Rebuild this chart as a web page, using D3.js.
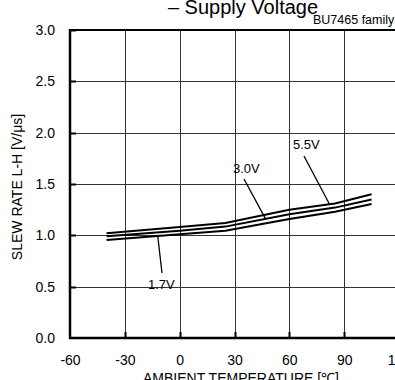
<!DOCTYPE html>
<html><head><meta charset="utf-8">
<script src="https://cdn.jsdelivr.net/npm/d3@7"></script>
<style>body{margin:0;background:#fff;overflow:hidden}svg{display:block;font-family:"Liberation Sans",Arial,sans-serif}</style>
</head><body>
<script>
const temps = [-40, 0, 25, 60, 85, 105];
const v55 = [1.02, 1.08, 1.12, 1.25, 1.31, 1.40];
const v30 = [0.99, 1.045, 1.085, 1.205, 1.27, 1.35];
const v17 = [0.955, 1.01, 1.045, 1.16, 1.23, 1.305];
const xTicks = [-60, -30, 0, 30, 60, 90, 120];
const yTicks = [0.0, 0.5, 1.0, 1.5, 2.0, 2.5, 3.0];
const series = [
  {name: "5.5V", values: v55},
  {name: "3.0V", values: v30},
  {name: "1.7V", values: v17}
];

const W = 395, H = 380;
const svg = d3.select("body").append("svg").attr("width", W).attr("height", H);
const x = d3.scaleLinear().domain([-60, 120]).range([70, 399]);
const y = d3.scaleLinear().domain([0, 3]).range([338, 30]);

// gridlines
svg.append("g").selectAll("line").data(xTicks.slice(1)).join("line")
  .attr("x1", d => Math.round(x(d)) + 0.5).attr("x2", d => Math.round(x(d)) + 0.5)
  .attr("y1", y(3)).attr("y2", y(0)).attr("stroke", "#333").attr("stroke-width", 1);
svg.append("g").selectAll("line").data(yTicks.slice(1)).join("line")
  .attr("x1", x(-60)).attr("x2", x(120))
  .attr("y1", d => Math.round(y(d)) + 0.5).attr("y2", d => Math.round(y(d)) + 0.5)
  .attr("stroke", "#333").attr("stroke-width", 1);
// inner tick marks
svg.append("g").selectAll("line").data(xTicks.slice(1)).join("line")
  .attr("x1", d => Math.round(x(d)) + 0.5).attr("x2", d => Math.round(x(d)) + 0.5)
  .attr("y1", y(0) - 6).attr("y2", y(0)).attr("stroke", "#000").attr("stroke-width", 2);
svg.append("g").selectAll("line").data(yTicks.slice(1)).join("line")
  .attr("x1", x(-60)).attr("x2", x(-60) + 6)
  .attr("y1", d => Math.round(y(d)) + 0.5).attr("y2", d => Math.round(y(d)) + 0.5)
  .attr("stroke", "#000").attr("stroke-width", 2);

// frame
svg.append("rect").attr("x", x(-60)).attr("y", y(3)).attr("width", x(120) - x(-60)).attr("height", y(0) - y(3))
  .attr("fill", "none").attr("stroke", "#000").attr("stroke-width", 1);
svg.append("line").attr("x1", x(-60)).attr("x2", x(-60)).attr("y1", y(3) - 1).attr("y2", y(0) + 1).attr("stroke", "#000").attr("stroke-width", 2.5);
svg.append("line").attr("x1", x(-60) - 1).attr("x2", x(120)).attr("y1", y(0)).attr("y2", y(0)).attr("stroke", "#000").attr("stroke-width", 2.5);
svg.append("line").attr("x1", x(-60) - 1).attr("x2", x(120)).attr("y1", y(3)).attr("y2", y(3)).attr("stroke", "#000").attr("stroke-width", 2);

// axes labels
const xAxis = d3.axisBottom(x).tickValues(xTicks).tickSize(0).tickPadding(0).tickFormat(d => String(d));
const gx = svg.append("g").attr("transform", `translate(0,${y(0) + 17})`).call(xAxis);
gx.select(".domain").remove();
gx.selectAll("text").attr("font-size", 14).attr("font-family", "Liberation Sans, Arial, sans-serif").attr("fill", "#000");

const yAxis = d3.axisLeft(y).tickValues(yTicks).tickSize(0).tickPadding(0).tickFormat(d3.format(".1f"));
const gy = svg.append("g").attr("transform", `translate(55,0)`).call(yAxis);
gy.select(".domain").remove();
gy.selectAll("text").attr("font-size", 14).attr("font-family", "Liberation Sans, Arial, sans-serif").attr("fill", "#000");

// curves
const line = d3.line().x((d, i) => x(temps[i])).y(d => y(d));
svg.append("g").selectAll("path").data(series).join("path")
  .attr("d", d => line(d.values)).attr("fill", "none").attr("stroke", "#000").attr("stroke-width", 2);

// annotations
const ann = [
  {text: "5.5V", tx: 293, ty: 149, x1: 304, y1: 156, t: 82, s: v55},
  {text: "3.0V", tx: 233, ty: 173, x1: 244, y1: 179, t: 47, s: v30},
  {text: "1.7V", tx: 148, ty: 289, x1: 162, y1: 273, t: -12, s: v17}
];
const interp = (s, t) => {
  for (let i = 0; i < temps.length - 1; i++) {
    if (t >= temps[i] && t <= temps[i + 1]) {
      const f = (t - temps[i]) / (temps[i + 1] - temps[i]);
      return s[i] + f * (s[i + 1] - s[i]);
    }
  }
  return s[0];
};
ann.forEach(a => {
  svg.append("line").attr("x1", a.x1).attr("y1", a.y1).attr("x2", x(a.t)).attr("y2", y(interp(a.s, a.t)))
    .attr("stroke", "#000").attr("stroke-width", 1.3);
  svg.append("text").attr("x", a.tx).attr("y", a.ty).attr("font-size", 13).text(a.text);
});

// titles
svg.append("text").attr("x", 243).attr("y", 14).attr("text-anchor", "middle").attr("font-size", 20).text("– Supply Voltage");
svg.append("text").attr("x", 313).attr("y", 24).attr("font-size", 12.5).text("BU7465 family");
svg.append("text").attr("x", 241).attr("y", 383).attr("text-anchor", "middle").attr("font-size", 14).text("AMBIENT TEMPERATURE  [℃]");
svg.append("text").attr("transform", "translate(22,187) rotate(-90)").attr("text-anchor", "middle").attr("font-size", 14).text("SLEW RATE L-H [V/μs]");
</script>
</body></html>
